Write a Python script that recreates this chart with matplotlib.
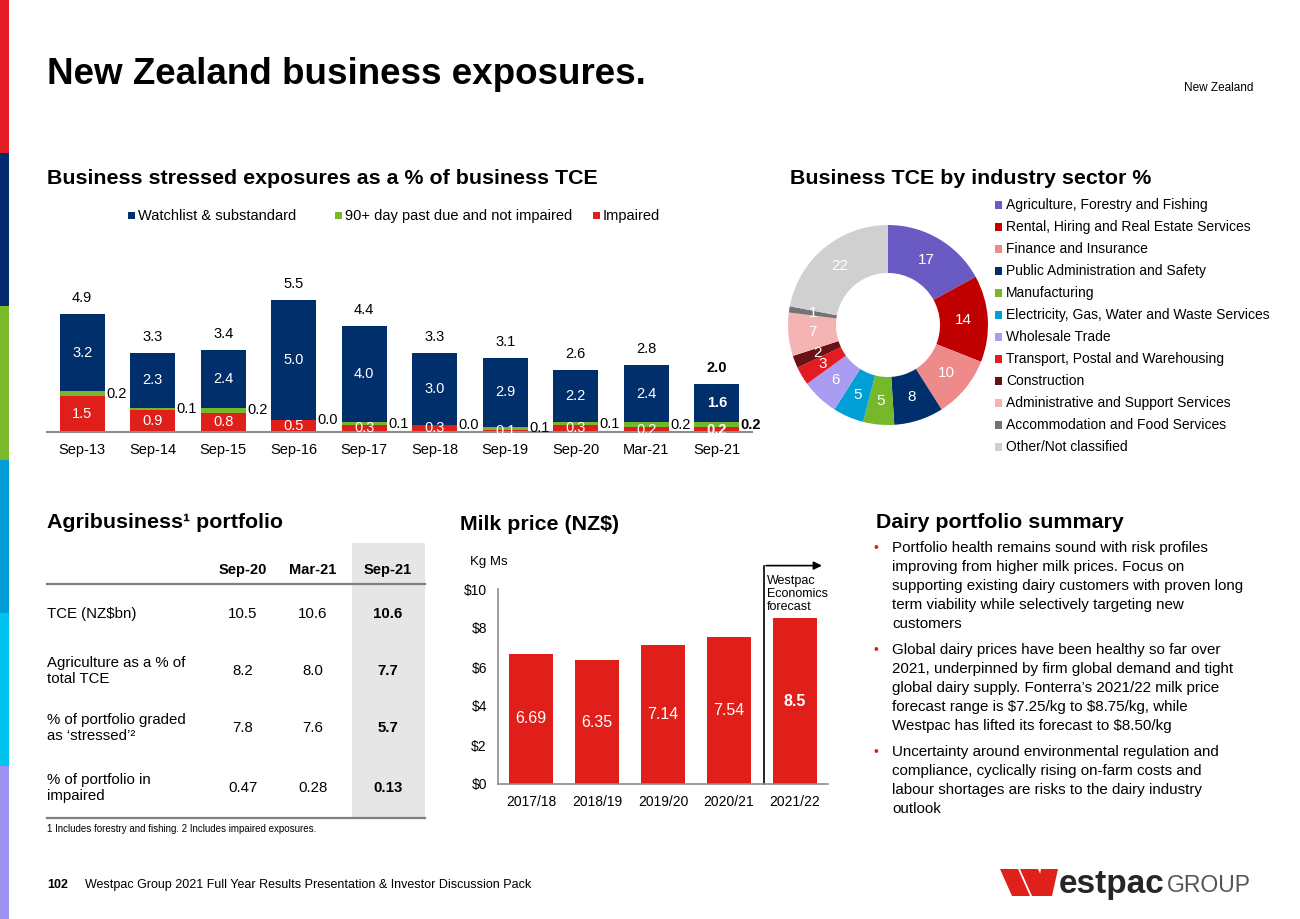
import matplotlib
matplotlib.use('Agg')
import matplotlib.pyplot as plt
from matplotlib.patches import Rectangle, Polygon

plt.rcParams['font.family'] = ['Liberation Sans', 'DejaVu Sans']

# ---- data ----
periods = ['Sep-13', 'Sep-14', 'Sep-15', 'Sep-16', 'Sep-17', 'Sep-18', 'Sep-19', 'Sep-20', 'Mar-21', 'Sep-21']
impaired = [1.5, 0.9, 0.8, 0.5, 0.3, 0.3, 0.1, 0.3, 0.2, 0.2]
past_due = [0.2, 0.1, 0.2, 0.0, 0.1, 0.0, 0.1, 0.1, 0.2, 0.2]
watchlist = [3.2, 2.3, 2.4, 5.0, 4.0, 3.0, 2.9, 2.2, 2.4, 1.6]
totals = [4.9, 3.3, 3.4, 5.5, 4.4, 3.3, 3.1, 2.6, 2.8, 2.0]
series_names = ['Watchlist & substandard', '90+ day past due and not impaired', 'Impaired']

sectors = ['Agriculture, Forestry and Fishing', 'Rental, Hiring and Real Estate Services',
           'Finance and Insurance', 'Public Administration and Safety', 'Manufacturing',
           'Electricity, Gas, Water and Waste Services', 'Wholesale Trade',
           'Transport, Postal and Warehousing', 'Construction',
           'Administrative and Support Services', 'Accommodation and Food Services',
           'Other/Not classified']
sector_pct = [17, 14, 10, 8, 5, 5, 6, 3, 2, 7, 1, 22]
sector_colors = ['#6A5BC4', '#C00000', '#EE8A8A', '#002F6C', '#76B82A', '#00A0D6',
                 '#A99CF2', '#E31B23', '#6B1015', '#F4B4B4', '#737373', '#D0D0D0']

table_cols = ['Sep-20', 'Mar-21', 'Sep-21']
table_rows = ['TCE (NZ$bn)', 'Agriculture as a % of\ntotal TCE',
              '% of portfolio graded\nas \u2018stressed\u2019\u00b2', '% of portfolio in\nimpaired']
table_vals = [['10.5', '10.6', '10.6'],
              ['8.2', '8.0', '7.7'],
              ['7.8', '7.6', '5.7'],
              ['0.47', '0.28', '0.13']]

milk_years = ['2017/18', '2018/19', '2019/20', '2020/21', '2021/22']
milk_price = [6.69, 6.35, 7.14, 7.54, 8.5]
milk_ticks = [0, 2, 4, 6, 8, 10]

bullets = [
    ['Portfolio health remains sound with risk profiles',
     'improving from higher milk prices. Focus on',
     'supporting existing dairy customers with proven long',
     'term viability while selectively targeting new',
     'customers'],
    ['Global dairy prices have been healthy so far over',
     '2021, underpinned by firm global demand and tight',
     'global dairy supply. Fonterra\u2019s 2021/22 milk price',
     'forecast range is $7.25/kg to $8.75/kg, while',
     'Westpac has lifted its forecast to $8.50/kg'],
    ['Uncertainty around environmental regulation and',
     'compliance, cyclically rising on-farm costs and',
     'labour shortages are risks to the dairy industry',
     'outlook'],
]

NAVY = '#002F6C'
GREEN = '#76B82A'
RED = '#E11F1A'
W, H = 1300, 919

fig = plt.figure(figsize=(W / 100, H / 100), dpi=100)


def ax_px(l, t, w, h):
    return fig.add_axes([l / W, 1 - (t + h) / H, w / W, h / H])


def txt(x, y, s, **kw):
    kw.setdefault('va', 'center')
    return fig.text(x / W, 1 - y / H, s, parse_math=False, **kw)


def box(x, y, w, h, color):
    fig.patches.append(Rectangle((x / W, 1 - (y + h) / H), w / W, h / H,
                                 transform=fig.transFigure, color=color, lw=0))


# left colour strip
strip = ['#E31B23', '#002B6C', '#7AB929', '#009DD6', '#00C3EE', '#9D92F0']
for i, c in enumerate(strip):
    box(0, i * 153.2, 9, 153.2, c)

txt(47, 75, 'New Zealand business exposures.', fontsize=26.5, fontweight='bold')
txt(1253, 88, 'New Zealand', fontsize=8.5, ha='right')

# ---- stressed exposures bar chart ----
txt(47, 178, 'Business stressed exposures as a % of business TCE', fontsize=15.4, fontweight='bold')
leg_x = [128, 335, 593]
for x, name, c in zip(leg_x, series_names, [NAVY, GREEN, RED]):
    box(x, 212, 7, 7, c)
    txt(x + 10, 216, name, fontsize=10.5)

ax = ax_px(47, 288, 705, 144)
x = range(len(periods))
bw = 0.64
ax.bar(x, impaired, bw, color=RED)
ax.bar(x, past_due, bw, bottom=impaired, color=GREEN)
base3 = [a + b for a, b in zip(impaired, past_due)]
ax.bar(x, watchlist, bw, bottom=base3, color=NAVY)
ax.set_xlim(-0.5, len(periods) - 0.5)
ax.set_ylim(0, 6)
for i in x:
    last = i == len(periods) - 1
    fw = 'bold' if last else 'normal'
    ax.annotate(f'{totals[i]:.1f}', (i, totals[i]), xytext=(0, 11.5), textcoords='offset points',
                ha='center', va='center', fontsize=10.5, fontweight=fw, annotation_clip=False)
    ax.text(i, base3[i] + watchlist[i] / 2, f'{watchlist[i]:.1f}', ha='center', va='center',
            color='white', fontsize=10.5, fontweight=fw)
    ax.text(i, impaired[i] / 2, f'{impaired[i]:.1f}', ha='center', va='center',
            color='white', fontsize=10.5, fontweight=fw)
    ax.text(i + bw / 2 + 0.02, impaired[i] + past_due[i] / 2, f'{past_due[i]:.1f}',
            ha='left', va='center', fontsize=10.5, fontweight=fw)
ax.set_xticks(list(x))
ax.set_xticklabels(periods, fontsize=10.5)
ax.tick_params(axis='x', length=0, pad=8)
ax.set_yticks([])
for s in ['top', 'right', 'left']:
    ax.spines[s].set_visible(False)
ax.spines['bottom'].set_color('#8C8C8C')
ax.spines['bottom'].set_linewidth(1.5)

# ---- donut ----
txt(790, 178, 'Business TCE by industry sector %', fontsize=15.4, fontweight='bold')
axp = ax_px(788, 225, 200, 200)
axp.pie(sector_pct, colors=sector_colors, startangle=90, counterclock=False,
        labels=[str(v) for v in sector_pct], labeldistance=0.76,
        textprops=dict(color='white', fontsize=11, ha='center', va='center'),
        wedgeprops=dict(width=0.48, linewidth=0))
axp.set_xlim(-1, 1)
axp.set_ylim(-1, 1)
for i, (name, c) in enumerate(zip(sectors, sector_colors)):
    y = 205 + i * 22
    box(995, y - 3.5, 7, 7, c)
    txt(1006, y, name, fontsize=10)

# ---- agribusiness table ----
txt(47, 523, 'Agribusiness\u00b9 portfolio', fontsize=15.4, fontweight='bold')
box(352, 543, 73, 275, '#E7E6E6')
col_x = [243, 313, 388]
for cx, c in zip(col_x, table_cols):
    txt(cx, 570, c, fontsize=10.5, fontweight='bold', ha='center')
fig.add_artist(plt.Line2D([47 / W, 425 / W], [1 - 584 / H, 1 - 584 / H], color='#7F7F7F', lw=1.6))
fig.add_artist(plt.Line2D([47 / W, 425 / W], [1 - 818 / H, 1 - 818 / H], color='#7F7F7F', lw=1.6))
row_y = [614, 671, 728, 788]
for ry, label, vals in zip(row_y, table_rows, table_vals):
    txt(47, ry, label, fontsize=10.8, linespacing=1.15)
    for j, (cx, v) in enumerate(zip(col_x, vals)):
        txt(cx, ry, v, fontsize=10.8, ha='center', fontweight='bold' if j == 2 else 'normal')
txt(47, 829, '1 Includes forestry and fishing. 2 Includes impaired exposures.', fontsize=7)

# ---- milk price ----
txt(460, 525, 'Milk price (NZ$)', fontsize=15.4, fontweight='bold')
txt(470, 562, 'Kg Ms', fontsize=9.5)
axm = ax_px(498, 589, 330, 195)
axm.bar(range(len(milk_years)), milk_price, 0.67, color=RED)
axm.set_xlim(-0.5, len(milk_years) - 0.5)
axm.set_ylim(0, 10)
axm.set_yticks(milk_ticks)
axm.set_yticklabels([f'\\${t}' for t in milk_ticks], fontsize=10)
axm.set_xticks(range(len(milk_years)))
axm.set_xticklabels(milk_years, fontsize=10)
axm.tick_params(length=0, pad=8)
for s in ['top', 'right']:
    axm.spines[s].set_visible(False)
for s in ['left', 'bottom']:
    axm.spines[s].set_color('#8C8C8C')
    axm.spines[s].set_linewidth(1.2)
for i, v in enumerate(milk_price):
    last = i == len(milk_price) - 1
    axm.text(i, v / 2, f'{v:g}', ha='center', va='center', color='white', fontsize=11.5,
             fontweight='bold' if last else 'normal')
# forecast marker
axm.plot([3.53, 3.53], [0, 11.2], color='black', lw=1.2, clip_on=False)
axm.annotate('', xy=(4.45, 11.2), xytext=(3.52, 11.2), annotation_clip=False,
             arrowprops=dict(arrowstyle='-|>', color='black', lw=1.2, mutation_scale=12))
txt(767, 594, 'Westpac\nEconomics\nforecast', fontsize=9, linespacing=1.1)

# ---- dairy summary ----
txt(876, 523, 'Dairy portfolio summary', fontsize=15.4, fontweight='bold')
y = 548
for b in bullets:
    txt(873, y, '\u2022', fontsize=10, color=RED)
    for line in b:
        txt(892, y, line, fontsize=10.9)
        y += 19
    y += 7

# ---- footer ----
txt(47, 885, '102', fontsize=9, fontweight='bold')
txt(85, 885, 'Westpac Group 2021 Full Year Results Presentation & Investor Discussion Pack', fontsize=9)
for pts in ([(1000, 869), (1018, 869), (1030, 896), (1012, 896)],
            [(1020, 869), (1038, 869), (1050, 896), (1032, 896)],
            [(1041, 869), (1058, 869), (1052, 896), (1036, 896)]):
    fig.patches.append(Polygon([(px / W, 1 - py / H) for px, py in pts], closed=True,
                               transform=fig.transFigure, color='#E0201B', lw=0))
txt(1059, 884, 'estpac', fontsize=24, fontweight='bold', color='#262626')
txt(1167, 885, 'GROUP', fontsize=16.5, color='#555555')

fig.savefig('out.png', dpi=100)
